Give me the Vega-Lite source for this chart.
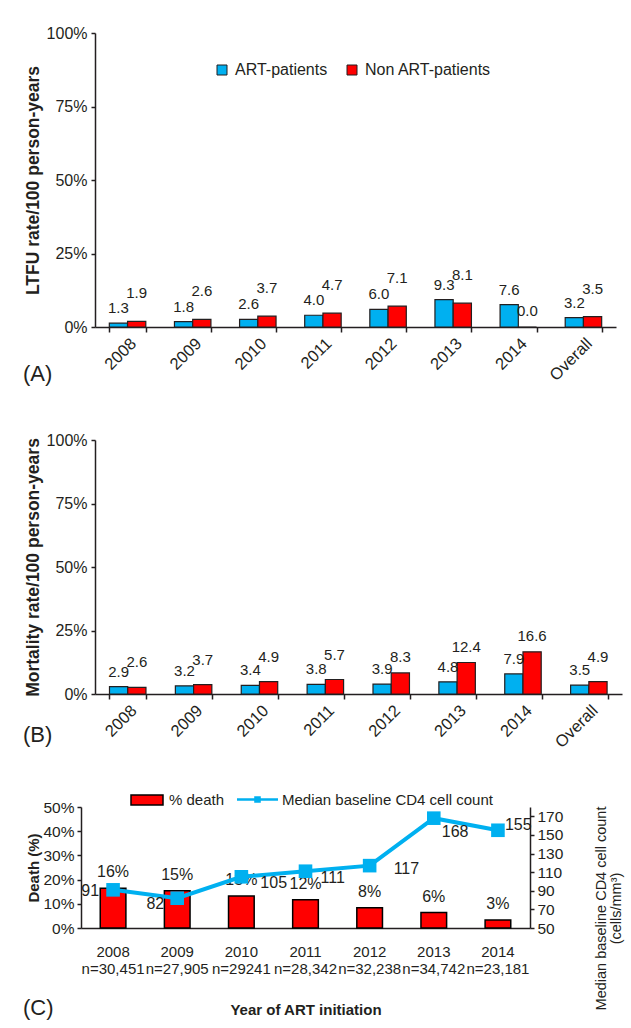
{
  "$schema": "https://vega.github.io/schema/vega-lite/v6.json",
  "background": "white",
  "padding": {"left": 23, "top": 25, "right": 5, "bottom": 5},
  "bounds": "flush",
  "spacing": 113,
  "config": {
    "font": "Liberation Sans",
    "view": {"stroke": null},
    "axis": {
      "labelFont": "Liberation Sans",
      "titleFont": "Liberation Sans",
      "labelColor": "#231f20",
      "titleColor": "#231f20",
      "domainColor": "#231f20",
      "tickColor": "#231f20",
      "domainWidth": 1.5,
      "tickWidth": 1.5,
      "grid": false,
      "labelFontSize": 16
    },
    "legend": {"labelFont": "Liberation Sans", "labelColor": "#231f20", "padding": 0, "labelLimit": 400},
    "title": {"font": "Liberation Sans", "color": "#231f20"}
  },
  "vconcat": [
    {
      "width": 521,
      "height": 294,
      "title": {"text": "(A)", "orient": "bottom", "anchor": "start", "frame": "group", "fontSize": 22, "fontWeight": "normal", "dx": -72, "offset": -20},
      "data": {"values": [
        {"cat": "2008", "series": "ART-patients", "value": 1.3},
        {"cat": "2008", "series": "Non ART-patients", "value": 1.9},
        {"cat": "2009", "series": "ART-patients", "value": 1.8},
        {"cat": "2009", "series": "Non ART-patients", "value": 2.6},
        {"cat": "2010", "series": "ART-patients", "value": 2.6},
        {"cat": "2010", "series": "Non ART-patients", "value": 3.7},
        {"cat": "2011", "series": "ART-patients", "value": 4.0},
        {"cat": "2011", "series": "Non ART-patients", "value": 4.7},
        {"cat": "2012", "series": "ART-patients", "value": 6.0},
        {"cat": "2012", "series": "Non ART-patients", "value": 7.1},
        {"cat": "2013", "series": "ART-patients", "value": 9.3},
        {"cat": "2013", "series": "Non ART-patients", "value": 8.1},
        {"cat": "2014", "series": "ART-patients", "value": 7.6},
        {"cat": "2014", "series": "Non ART-patients", "value": 0.0},
        {"cat": "Overall", "series": "ART-patients", "value": 3.2},
        {"cat": "Overall", "series": "Non ART-patients", "value": 3.5}
      ]},
      "encoding": {
        "x": {"field": "cat", "type": "nominal", "sort": null,
          "scale": {"paddingInner": 0.44, "paddingOuter": 0.22},
          "axis": {"title": null, "tickBand": "extent", "tickSize": 5, "labelAngle": -45, "labelPadding": 3, "labelFontSize": 16.5}},
        "xOffset": {"field": "series", "type": "nominal", "scale": {"domain": ["ART-patients", "Non ART-patients"]}},
        "y": {"field": "value", "type": "quantitative", "scale": {"domain": [0, 100]},
          "axis": {"values": [0, 25, 50, 75, 100], "labelExpr": "datum.value + '%'", "tickSize": 4, "labelPadding": 4,
            "title": "LTFU rate/100 person-years", "titleFontSize": 17.5, "titleFontWeight": "bold", "titleX": -62, "titleBaseline": "middle"}}
      },
      "layer": [
        {"mark": {"type": "bar", "stroke": "#231f20", "strokeWidth": 1.2},
          "encoding": {"fill": {"field": "series", "type": "nominal",
            "scale": {"domain": ["ART-patients", "Non ART-patients"], "range": ["#00B0F0", "#FF0000"]},
            "legend": {"orient": "none", "legendX": 119, "legendY": 29, "direction": "horizontal", "title": null,
              "symbolType": "square", "symbolSize": 100, "symbolStrokeColor": "#231f20", "symbolStrokeWidth": 1,
              "labelFontSize": 16, "labelOffset": 5, "columnPadding": 16}}}},
        {"transform": [{"filter": "datum.series === 'ART-patients'"}],
          "mark": {"type": "text", "dy": -15, "fontSize": 15, "color": "#231f20"},
          "encoding": {"text": {"field": "value", "type": "quantitative", "format": ".1f"}}},
        {"transform": [{"filter": "datum.series === 'Non ART-patients' && datum.value > 0"}],
          "mark": {"type": "text", "dy": -28, "fontSize": 15, "color": "#231f20"},
          "encoding": {"text": {"field": "value", "type": "quantitative", "format": ".1f"}}},
        {"transform": [{"filter": "datum.series === 'Non ART-patients' && datum.value == 0"}],
          "mark": {"type": "text", "dy": -16, "fontSize": 15, "color": "#231f20"},
          "encoding": {"text": {"field": "value", "type": "quantitative", "format": ".1f"}}}
      ]
    },
    {
      "width": 527,
      "height": 254,
      "title": {"text": "(B)", "orient": "bottom", "anchor": "start", "frame": "group", "fontSize": 22, "fontWeight": "normal", "dx": -72, "offset": -26},
      "data": {"values": [
        {"cat": "2008", "series": "ART-patients", "value": 2.9},
        {"cat": "2008", "series": "Non ART-patients", "value": 2.6},
        {"cat": "2009", "series": "ART-patients", "value": 3.2},
        {"cat": "2009", "series": "Non ART-patients", "value": 3.7},
        {"cat": "2010", "series": "ART-patients", "value": 3.4},
        {"cat": "2010", "series": "Non ART-patients", "value": 4.9},
        {"cat": "2011", "series": "ART-patients", "value": 3.8},
        {"cat": "2011", "series": "Non ART-patients", "value": 5.7},
        {"cat": "2012", "series": "ART-patients", "value": 3.9},
        {"cat": "2012", "series": "Non ART-patients", "value": 8.3},
        {"cat": "2013", "series": "ART-patients", "value": 4.8},
        {"cat": "2013", "series": "Non ART-patients", "value": 12.4},
        {"cat": "2014", "series": "ART-patients", "value": 7.9},
        {"cat": "2014", "series": "Non ART-patients", "value": 16.6},
        {"cat": "Overall", "series": "ART-patients", "value": 3.5},
        {"cat": "Overall", "series": "Non ART-patients", "value": 4.9}
      ]},
      "encoding": {
        "x": {"field": "cat", "type": "nominal", "sort": null,
          "scale": {"paddingInner": 0.44, "paddingOuter": 0.22},
          "axis": {"title": null, "tickBand": "extent", "tickSize": 5, "labelAngle": -45, "labelPadding": 3, "labelFontSize": 16.5}},
        "xOffset": {"field": "series", "type": "nominal", "scale": {"domain": ["ART-patients", "Non ART-patients"]}},
        "y": {"field": "value", "type": "quantitative", "scale": {"domain": [0, 100]},
          "axis": {"values": [0, 25, 50, 75, 100], "labelExpr": "datum.value + '%'", "tickSize": 4, "labelPadding": 4,
            "title": "Mortality rate/100 person-years", "titleFontSize": 17.5, "titleFontWeight": "bold", "titleX": -62, "titleBaseline": "middle"}}
      },
      "layer": [
        {"mark": {"type": "bar", "stroke": "#231f20", "strokeWidth": 1.2},
          "encoding": {"fill": {"field": "series", "type": "nominal",
            "scale": {"domain": ["ART-patients", "Non ART-patients"], "range": ["#00B0F0", "#FF0000"]},
            "legend": {"orient": "none", "legendX": 122, "legendY": 24, "direction": "horizontal", "title": null,
              "symbolType": "square", "symbolSize": 100, "symbolStrokeColor": "#231f20", "symbolStrokeWidth": 1,
              "labelFontSize": 16, "labelOffset": 5, "columnPadding": 16}}}},
        {"transform": [{"filter": "datum.series === 'ART-patients'"}],
          "mark": {"type": "text", "dy": -15, "fontSize": 15, "color": "#231f20"},
          "encoding": {"text": {"field": "value", "type": "quantitative", "format": ".1f"}}},
        {"transform": [{"filter": "datum.series === 'Non ART-patients' && datum.value <= 6"}],
          "mark": {"type": "text", "dy": -25, "fontSize": 15, "color": "#231f20"},
          "encoding": {"text": {"field": "value", "type": "quantitative", "format": ".1f"}}},
        {"transform": [{"filter": "datum.series === 'Non ART-patients' && datum.value > 6"}],
          "mark": {"type": "text", "dy": -16, "fontSize": 15, "color": "#231f20"},
          "encoding": {"text": {"field": "value", "type": "quantitative", "format": ".1f"}}}
      ]
    },
    {
      "width": 435,
      "height": 121,
      "title": {"text": "(C)", "orient": "bottom", "anchor": "start", "frame": "group", "fontSize": 22, "fontWeight": "normal", "dx": -72, "offset": -19},
      "data": {"values": [
        {"year": "2008", "xl": "2008|n=30,451", "death": 0.164, "cd4": 91},
        {"year": "2009", "xl": "2009|n=27,905", "death": 0.154, "cd4": 82},
        {"year": "2010", "xl": "2010|n=29241", "death": 0.132, "cd4": 105},
        {"year": "2011", "xl": "2011|n=28,342", "death": 0.117, "cd4": 111},
        {"year": "2012", "xl": "2012|n=32,238", "death": 0.084, "cd4": 117},
        {"year": "2013", "xl": "2013|n=34,742", "death": 0.064, "cd4": 168},
        {"year": "2014", "xl": "2014|n=23,181", "death": 0.033, "cd4": 155}
      ]},
      "encoding": {
        "x": {"field": "xl", "type": "nominal", "sort": null,
          "scale": {"range": [-14, 435], "paddingInner": 0.6, "paddingOuter": 0.3},
          "axis": {"title": "Year of ART initiation", "titleFontSize": 15, "titleFontWeight": "bold", "titlePadding": 26,
            "labelExpr": "split(datum.label, '|')", "labelAngle": 0, "ticks": false, "tickSize": 0, "labelPadding": 16,
            "labelFontSize": 15, "labelLineHeight": 17}}
      },
      "layer": [
        {
          "encoding": {"y": {"field": "death", "type": "quantitative", "scale": {"domain": [0, 0.5]},
            "axis": {"orient": "left", "values": [0, 0.1, 0.2, 0.3, 0.4, 0.5], "format": ".0%", "offset": 14, "tickSize": 4, "labelPadding": 3,
              "labelFontSize": 15.5, "title": "Death (%)", "titleFontSize": 15, "titleFontWeight": "bold", "titleX": -48, "titleBaseline": "middle"}}},
          "layer": [
            {"mark": {"type": "bar", "stroke": "#000000", "strokeWidth": 1.5},
              "encoding": {"fill": {"datum": "% death", "type": "nominal", "scale": {"range": ["#FF0000"]},
                "legend": {"orient": "none", "legendX": 35, "legendY": -24, "title": null,
                  "symbolType": "M-1,-0.3125H1V0.3125H-1Z", "symbolSize": 1024, "symbolStrokeColor": "#000000", "symbolStrokeWidth": 1.5,
                  "labelFontSize": 15, "labelOffset": 5}}}},
            {"mark": {"type": "text", "dy": -16, "fontSize": 16, "color": "#231f20"},
              "encoding": {"text": {"field": "death", "type": "quantitative", "format": ".0%"}}}
          ]
        },
        {
          "encoding": {"y": {"field": "cd4", "type": "quantitative", "scale": {"domain": [50, 180]},
            "axis": {"orient": "right", "values": [50, 70, 90, 110, 130, 150, 170], "tickSize": 4, "labelPadding": 3, "labelFontSize": 15.5,
              "title": ["Median baseline CD4 cell count", "(cells/mm³)"], "titleFontSize": 14.5, "titleFontWeight": "normal",
              "titleAngle": 270, "titleX": 64, "titleY": 101, "titleAlign": "center", "titleBaseline": "top", "titleLineHeight": 15}}},
          "layer": [
            {"mark": {"type": "line", "color": "#00B0F0", "strokeWidth": 4},
              "encoding": {"stroke": {"datum": "Median baseline CD4 cell count", "type": "nominal", "scale": {"range": ["#00B0F0"]},
                "legend": {"orient": "none", "legendX": 142, "legendY": -28, "title": null,
                  "symbolType": "M-1,-0.06H1V0.06H-1Z M-0.16,-0.16H0.16V0.16H-0.16Z", "symbolSize": 1681,
                  "symbolFillColor": "#00B0F0", "symbolStrokeWidth": 0, "labelFontSize": 15, "labelOffset": 4}}}},
            {"mark": {"type": "point", "shape": "square", "filled": true, "size": 185, "color": "#00B0F0", "opacity": 1}},
            {"transform": [{"filter": "datum.year === '2008'"}],
              "mark": {"type": "text", "align": "right", "dx": -14, "dy": 1, "fontSize": 16, "color": "#231f20"},
              "encoding": {"text": {"field": "cd4", "type": "quantitative"}}},
            {"transform": [{"filter": "datum.year === '2009'"}],
              "mark": {"type": "text", "align": "right", "dx": -13, "dy": 6, "fontSize": 16, "color": "#231f20"},
              "encoding": {"text": {"field": "cd4", "type": "quantitative"}}},
            {"transform": [{"filter": "datum.year === '2010'"}],
              "mark": {"type": "text", "align": "left", "dx": 19, "dy": 6, "fontSize": 16, "color": "#231f20"},
              "encoding": {"text": {"field": "cd4", "type": "quantitative"}}},
            {"transform": [{"filter": "datum.year === '2011'"}],
              "mark": {"type": "text", "align": "left", "dx": 15, "dy": 7, "fontSize": 16, "color": "#231f20"},
              "encoding": {"text": {"field": "cd4", "type": "quantitative"}}},
            {"transform": [{"filter": "datum.year === '2012'"}],
              "mark": {"type": "text", "align": "left", "dx": 24, "dy": 3, "fontSize": 16, "color": "#231f20"},
              "encoding": {"text": {"field": "cd4", "type": "quantitative"}}},
            {"transform": [{"filter": "datum.year === '2013'"}],
              "mark": {"type": "text", "align": "left", "dx": 8, "dy": 14, "fontSize": 16, "color": "#231f20"},
              "encoding": {"text": {"field": "cd4", "type": "quantitative"}}},
            {"transform": [{"filter": "datum.year === '2014'"}],
              "mark": {"type": "text", "align": "left", "dx": 7, "dy": -5, "fontSize": 16, "color": "#231f20"},
              "encoding": {"text": {"field": "cd4", "type": "quantitative"}}}
          ]
        }
      ],
      "resolve": {"scale": {"y": "independent", "fill": "independent", "stroke": "independent"}}
    }
  ]
}
